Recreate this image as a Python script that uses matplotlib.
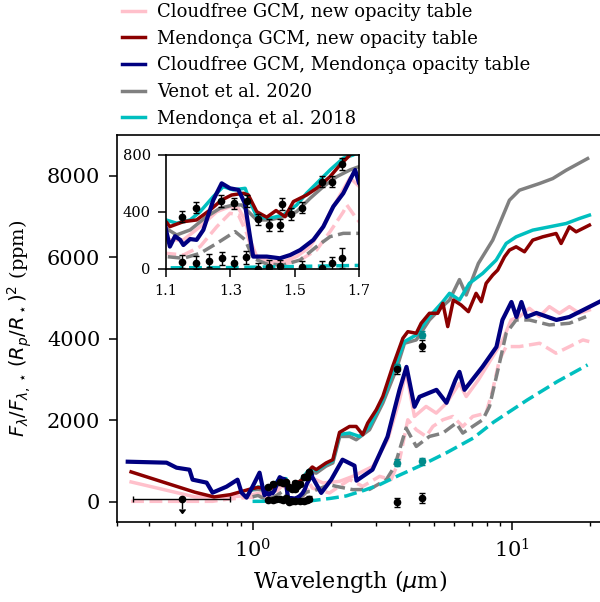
import matplotlib
matplotlib.use('Agg')
import matplotlib.pyplot as plt

plt.rcParams['font.family'] = 'serif'

### Model spectra (wavelength in micron, eclipse/phase depth in ppm) ###
# Cloudfree GCM, new opacity table
cfn_day_wl = [0.34, 0.60, 0.70, 0.82, 0.95, 1.05, 1.1, 1.154, 1.206, 1.258,
              1.299, 1.325, 1.346, 1.361, 1.382, 1.423, 1.465, 1.506, 1.548, 1.589,
              1.61, 1.631, 1.672, 1.70, 1.867, 2.165, 2.436, 2.585, 2.91, 3.32,
              3.69, 3.91, 4.21, 4.67, 5.11, 5.60, 6.28, 6.67, 7.43, 8.44,
              9.23, 9.94, 10.70, 11.69, 12.78, 13.96, 15.26, 16.67, 18.2, 19.9]
cfn_day = [483, 115, 115, 115, 150, 200, 204, 204, 297, 402,
           438, 426, 344, 204, 87, 51, 51, 87, 157, 300,
           400, 480, 640, 580, 458, 497, 620, 703, 865, 1519,
           2499, 3192, 2091, 2336, 2173, 2418, 2908, 2580, 2989, 3560,
           3969, 4459, 4541, 4745, 4541, 4786, 4623, 4786, 4623, 4704]
cfn_night_wl = [0.34, 0.70, 0.80, 0.95, 1.05, 1.1, 1.154, 1.206, 1.258, 1.299,
                1.325, 1.351, 1.371, 1.413, 1.465, 1.517, 1.568, 1.61, 1.651, 1.662,
                1.688, 1.70, 1.98, 2.366, 2.66, 3.09, 3.42, 3.69, 3.97, 4.28,
                4.67, 4.96, 5.42, 5.92, 6.47, 7.07, 7.96, 8.44, 8.96, 9.51,
                10.7, 12.8, 14.8, 16.7, 18.8, 19.9]
cfn_night = [7, 7, 60, 100, 110, 110, 98, 157, 297, 391,
             379, 250, 110, 40, 35, 63, 133, 262, 400, 449,
             367, 332, 213, 539, 375, 620, 539, 1029, 2009, 1764,
             1600, 1845, 2009, 2091, 1845, 2091, 2173, 2744, 3479, 3806,
             3806, 3888, 3643, 3806, 3969, 3928]

# Mendonca GCM, new opacity table
mgn_wl = [0.34, 0.60, 0.71, 0.82, 0.97, 1.05,
          1.1, 1.112, 1.154, 1.195, 1.237, 1.273, 1.304, 1.34, 1.356, 1.382,
          1.413, 1.442, 1.47, 1.496, 1.537, 1.568, 1.61, 1.641, 1.672, 1.70,
          1.76, 1.92, 2.04, 2.165, 2.366, 2.51, 2.66, 2.78, 3.0, 3.18,
          3.47, 3.80, 3.97, 4.28, 4.47, 4.81, 5.18, 5.42, 5.66, 5.95,
          6.37, 6.8, 7.28, 7.62, 7.96, 8.44, 8.82, 9.37, 9.79, 10.39,
          11.19, 12.04, 13.16, 14.82, 15.49, 16.67, 17.70, 19.92]
mgn = [730, 230, 115, 170, 300, 350,
       332, 297, 332, 344, 414, 484, 519, 531, 519, 402,
       363, 410, 367, 473, 519, 566, 648, 730, 800, 850,
       784, 948, 1029, 1700, 1845, 1845, 1642, 1928, 2254, 2580,
       3315, 4010, 4172, 4133, 4378, 4623, 4623, 4868, 4296, 4949,
       4827, 4663, 5113, 4908, 5358, 5562, 5684, 6010, 6174, 6255,
       6133, 6419, 6500, 6582, 6337, 6745, 6623, 6787]

# Cloudfree GCM, Mendonca opacity table
cfm_wl = [0.33, 0.466, 0.509, 0.571, 0.587, 0.665, 0.701, 0.794, 0.875, 0.907,
          0.948, 1.0, 1.064,
          1.1, 1.112, 1.128, 1.144, 1.154, 1.175, 1.195, 1.216, 1.247, 1.273,
          1.299, 1.325, 1.345, 1.361, 1.371, 1.413, 1.454, 1.486, 1.517, 1.558,
          1.589, 1.62, 1.651, 1.672, 1.688, 1.70,
          1.84, 2.01, 2.223, 2.473, 2.517, 2.901, 3.315, 3.688, 3.924, 4.212,
          4.404, 5.121, 5.596, 6.062, 6.281, 6.566, 7.704, 8.724, 9.2, 9.965,
          10.42, 10.89, 11.38, 12.44, 14.86, 16.67, 21.7]
cfm = [980, 956, 833, 784, 539, 466, 220, 368, 539, 220,
       98, 368, 711,
       274, 157, 230, 204, 168, 210, 204, 274, 484, 601,
       566, 555, 461, 227, 87, 87, 75, 98, 133, 204,
       297, 438, 531, 625, 695, 601,
       213, 538, 1029, 882, 515, 784, 1593, 2744, 3308, 2328,
       2573, 2744, 2426, 2989, 3185, 2744, 3308, 3798, 4459, 4900,
       4533, 4900, 4533, 4631, 4459, 4533, 4900]

# Venot et al. 2020
ven_day_wl = [1.0, 1.05, 1.1, 1.133, 1.175, 1.226, 1.268, 1.309, 1.335, 1.361,
              1.382, 1.423, 1.465, 1.506, 1.548, 1.589, 1.631, 1.672, 1.70, 1.76,
              1.92, 2.04, 2.17, 2.37, 2.51, 2.825, 3.18, 3.58, 3.855, 4.28,
              4.81, 5.42, 5.75, 6.28, 6.67, 7.43, 8.44, 9.79, 10.70, 12.78,
              14.38, 16.2, 19.6]
ven_day = [290, 300, 285, 239, 274, 367, 426, 449, 449, 391,
           344, 344, 367, 402, 496, 578, 648, 695, 718, 700,
           870, 950, 1600, 1600, 1519, 1764, 2418, 3234, 3888, 3969,
           4459, 4800, 4949, 5450, 5072, 5848, 6419, 7399, 7644, 7808,
           7930, 8134, 8421]
ven_night_wl = [1.0, 1.05, 1.1, 1.154, 1.206, 1.258, 1.315, 1.346, 1.371, 1.413,
                1.465, 1.517, 1.568, 1.61, 1.651, 1.70, 1.98, 2.10, 2.436, 2.825,
                3.28, 3.53, 3.91, 4.28, 4.81, 5.42, 6.10, 6.47, 7.72, 8.20,
                8.96, 9.51, 10.39, 11.69, 13.96, 16.67, 19.34]
ven_night = [120, 150, 87, 75, 110, 180, 262, 204, 75, 35,
             28, 63, 157, 227, 250, 250, 417, 375, 294, 300,
             539, 865, 1805, 1355, 1600, 1683, 1928, 1683, 2009, 2336,
             3398, 4133, 4459, 4459, 4337, 4378, 4541]

# Mendonca et al. 2018
m18_day_wl = [1.0, 1.05, 1.1, 1.133, 1.175, 1.206, 1.247, 1.278, 1.309, 1.346,
              1.361, 1.382, 1.423, 1.465, 1.506, 1.537, 1.579, 1.61, 1.651, 1.682,
              1.70, 1.76, 1.92, 2.04, 2.165, 2.366, 2.585, 2.825, 3.18, 3.58,
              3.855, 4.28, 4.81, 5.42, 5.75, 6.28, 6.86, 7.72, 8.70, 9.51,
              10.39, 12.04, 13.96, 16.2, 18.23, 19.92]
m18_day = [300, 360, 344, 321, 344, 402, 508, 578, 555, 566,
           473, 367, 356, 379, 449, 531, 625, 695, 777, 800,
           830, 760, 920, 1000, 1650, 1683, 1600, 1845, 2499, 3398,
           3928, 4092, 4541, 4908, 5113, 4949, 5358, 5603, 5929, 6337,
           6500, 6664, 6745, 6827, 6950, 7032]
m18_night_wl = [1.0, 1.3, 1.7, 2.0, 2.3, 2.7, 3.1, 3.6, 4.5, 5.6,
                7.1, 8.5, 11.5, 15.0, 19.6]
m18_night = [7, 10, 25, 80, 140, 280, 420, 620, 900, 1200,
             1560, 1950, 2500, 2950, 3356]

### Observations ###
# HST/WFC3
wfc_day_wl = [1.151, 1.194, 1.271, 1.312, 1.351, 1.385, 1.420, 1.454, 1.460, 1.489,
              1.522, 1.584, 1.615, 1.646]
wfc_day = [367, 430, 477, 461, 477, 349, 309, 309, 456, 386, 430, 613, 613, 737]
wfc_day_err = [40, 40, 40, 40, 40, 40, 40, 40, 40, 40, 40, 40, 40, 45]
wfc_night_wl = [1.151, 1.194, 1.234, 1.273, 1.312, 1.349, 1.385, 1.420, 1.454, 1.522,
                1.584, 1.615, 1.646]
wfc_night = [51, 44, 58, 75, 44, 82, 0, 16, 21, 12, 9, 40, 75]
wfc_night_err = [45, 45, 45, 45, 45, 45, 45, 45, 45, 45, 45, 45, 70]
# Spitzer
spz_wl = [3.6, 4.5]
spz_day = [3250, 3830]
spz_night = [-20, 90]
spz_err = [110, 130]
spz2_day = [3300, 4100]
spz2_night = [960, 990]
spz2_err = [90, 90]
# optical upper limit
opt_wl = [0.534]
opt_val = [65]
opt_xerr = [[0.188], [0.286]]


def draw_models(a, lw=2.5):
	a.plot(cfn_day_wl, cfn_day, color='pink', lw=lw)
	a.plot(cfn_night_wl, cfn_night, color='pink', lw=lw, ls='--')
	a.plot(ven_day_wl, ven_day, color='grey', lw=lw)
	a.plot(ven_night_wl, ven_night, color='grey', lw=lw, ls='--')
	a.plot(m18_day_wl, m18_day, color='c', lw=lw)
	a.plot(m18_night_wl, m18_night, color='c', lw=lw, ls='--')
	a.plot(mgn_wl, mgn, color='darkred', lw=lw)
	a.plot(cfm_wl, cfm, color='navy', lw=lw + 0.5)


def draw_data(a):
	kw = dict(fmt='o', ms=4.5, capsize=2, elinewidth=1, capthick=1, zorder=5)
	a.errorbar(wfc_day_wl, wfc_day, yerr=wfc_day_err, color='k', **kw)
	a.errorbar(wfc_night_wl, wfc_night, yerr=wfc_night_err, color='k', **kw)
	a.errorbar(spz_wl, spz2_day, yerr=spz2_err, color='darkcyan', **kw)
	a.errorbar(spz_wl, spz2_night, yerr=spz2_err, color='darkcyan', **kw)
	a.errorbar(spz_wl, spz_day, yerr=spz_err, color='k', **kw)
	a.errorbar(spz_wl, spz_night, yerr=spz_err, color='k', **kw)


fig = plt.figure(figsize=(6, 6.02), dpi=100)
ax = fig.add_axes([0.195, 0.1329, 0.83, 0.6429])

draw_models(ax)
draw_data(ax)
ax.errorbar(opt_wl, opt_val, xerr=opt_xerr, yerr=250, uplims=True, fmt='o',
            color='k', ms=4.5, capsize=2, elinewidth=1, capthick=1, zorder=5)

ax.set_xscale('log')
ax.set_xlim(0.3, 25)
ax.set_ylim(-500, 9000)
ax.set_yticks([0, 2000, 4000, 6000, 8000])
ax.tick_params(which='major', length=6, width=1.1, labelsize=15, pad=6)
ax.tick_params(which='minor', length=3, width=1)
for s in ax.spines.values():
	s.set_linewidth(1.2)
ax.set_xlabel('Wavelength ($\\mu$m)', fontsize=16)
ax.xaxis.set_label_coords(0.468, -0.118)
ax.set_ylabel('$F_\\lambda/F_{\\lambda,\\star}\\,(R_p/R_\\star)^2$ (ppm)', fontsize=14,
              labelpad=9)

# legend (handles only)
hnd = [plt.Line2D([], [], color=c, lw=2.5) for c in ['pink', 'darkred', 'navy', 'grey', 'c']]
lab = ['Cloudfree GCM, new opacity table', 'Mendonça GCM, new opacity table',
       'Cloudfree GCM, Mendonça opacity table', 'Venot et al. 2020', 'Mendonça et al. 2018']
ax.legend(hnd, lab, loc='lower left', bbox_to_anchor=(-0.004, 1), frameon=False,
          borderaxespad=0, handlelength=1.25, handletextpad=0.7, fontsize=13,
          labelspacing=0.48)

### inset: HST/WFC3 range ###
ins = fig.add_axes([0.2767, 0.5532, 0.3217, 0.1894])
draw_models(ins)
draw_data(ins)
ins.set_xlim(1.1, 1.7)
ins.set_ylim(0, 800)
ins.set_xticks([1.1, 1.3, 1.5, 1.7])
ins.set_yticks([0, 400, 800])
ins.tick_params(length=6, width=1.1, labelsize=10.5, pad=5)
for s in ins.spines.values():
	s.set_linewidth(1.2)

fig.savefig('out.png', dpi=100)
